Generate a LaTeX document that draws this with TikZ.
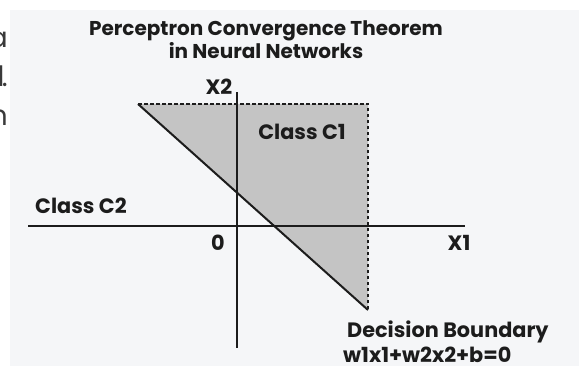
\documentclass[tikz,border=0pt]{standalone}
\usepackage{fontspec}
\setmainfont{Poppins}
\usetikzlibrary{positioning}
\definecolor{ink}{HTML}{1C1C1C}
\definecolor{panel}{HTML}{F5F6F8}
\definecolor{regiongray}{HTML}{C4C4C4}
\definecolor{stray}{HTML}{3A3A3A}

\begin{document}
\begin{tikzpicture}[
    x=1pt, y=-1pt,
    title/.style={font=\bfseries\fontsize{20}{23}\selectfont, text=ink, align=center, inner sep=0pt},
    tag/.style={font=\bfseries\fontsize{20.8}{22}\selectfont, text=ink, inner sep=0pt},
    fragment/.style={font=\fontsize{28}{30}\selectfont, text=stray, inner sep=0pt, anchor=east},
    axis/.style={draw=ink, line width=2pt},
    boundary/.style={draw=ink, line width=2pt},
    limitline/.style={draw=ink, line width=2pt, dash pattern=on 3.5pt off 2.5pt}
]
\useasboundingbox (0,0) rectangle (579,366);
\fill[panel] (10,10) rectangle (579,366);

% Cut-off text at the left edge
\node[fragment] (fa) at (8,40) {a};
\node[fragment] (fb) at (8,76) {l\kern-2.5pt.};
\node[fragment] (fc) at (8,118) {n};

% Title
\node[title] (head) at (266,40) {Perceptron Convergence Theorem\\in Neural Networks};

% Points
\coordinate (xleft) at (28,226);
\coordinate (xright) at (465,226);
\coordinate (ytop) at (237,92);
\coordinate (ybottom) at (237,348);
\coordinate (tl) at (138,104);
\coordinate (tr) at (368,104);
\coordinate (br) at (368,310);

% Region of class C1
\fill[regiongray] (tl) -- (tr) -- (br) -- cycle;
\draw[limitline] (tl) -- (tr) -- (br);
\draw[boundary] (tl) -- (br);

% Axes
\draw[axis] (xleft) -- (xright);
\draw[axis] (ybottom) -- (ytop);

% Labels
\node[tag] (lx2) at (219,87) {X2};
\node[tag] (lx1) at (459,243) {X1};
\node[tag] (lo) at (218,243) {0};
\node[tag] (c1) at (302,132) {Class C1};
\node[tag, anchor=west] (c2) at (35,206) {Class C2};
\node[tag, anchor=west] (db) at (347,332) {Decision Boundary};
\node[tag, anchor=west] (eq) at (343,355) {w1x1+w2x2+b=0};

\end{tikzpicture}
\end{document}
